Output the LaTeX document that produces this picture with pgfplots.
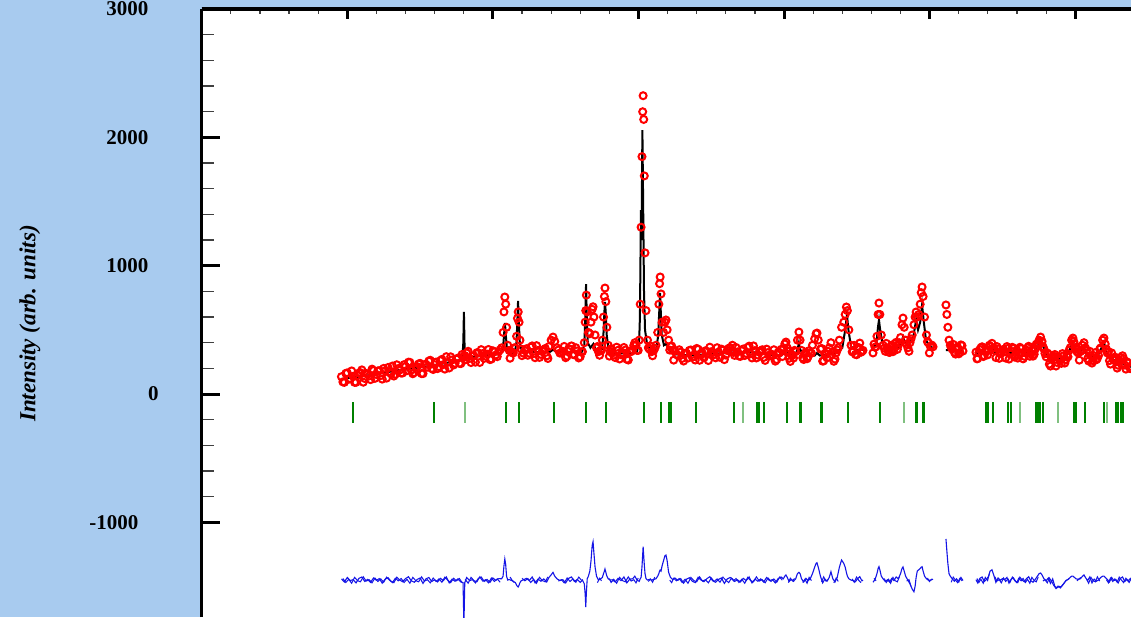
\documentclass[border=0pt]{standalone}
\usepackage{pgfplots}
\usepackage{pgfplotstable}
\pgfplotsset{compat=1.18}
\usepackage{fontspec}
\setmainfont{Liberation Serif}
\definecolor{bgblue}{RGB}{168,203,239}
\definecolor{bragg}{RGB}{0,128,0}
\definecolor{diffblue}{RGB}{20,20,230}

\pgfplotstableread{
x obs diff
19.6 135 -1441
19.8 91 -1465
20.0 165 -1430
20.2 120 -1454
20.4 138 -1447
20.6 91 -1472
20.8 164 -1437
21.0 188 -1426
21.2 121 -1461
21.4 155 -1445
21.6 112 -1468
21.8 183 -1434
22.0 152 -1452
22.2 182 -1439
22.4 116 -1474
22.6 181 -1443
22.8 207 -1432
23.0 158 -1459
23.2 140 -1470
23.4 228 -1428
23.6 187 -1450
23.8 164 -1463
24.0 215 -1439
24.2 248 -1424
24.4 186 -1456
24.6 167 -1467
24.8 214 -1445
25.0 239 -1434
25.2 159 -1476
25.4 232 -1441
25.6 257 -1430
25.8 199 -1461
26.0 229 -1448
26.2 198 -1465
26.4 260 -1437
26.6 229 -1454
26.8 291 -1426
27.0 203 -1472
27.2 265 -1443
27.4 239 -1459
27.6 280 -1441
27.8 237 -1465
27.95 290 -1470
28.01 285 -1800
28.07 300 -1470
28.2 320 -1430
28.4 277 -1454
28.6 295 -1447
28.8 248 -1472
29.0 321 -1437
29.2 346 -1426
29.4 278 -1461
29.6 311 -1445
29.8 268 -1468
30.0 337 -1434
30.2 304 -1452
30.4 332 -1439
30.6 360 -1440
30.70 480 -1420
30.76 640 -1340
30.82 756 -1286
30.88 700 -1330
30.94 520 -1420
31.02 380 -1450
31.12 340 -1445
31.25 330 -1452
31.40 320 -1460
31.55 360 -1470
31.63 450 -1490
31.69 590 -1500
31.74 640 -1504
31.80 560 -1490
31.86 420 -1470
31.95 350 -1455
32.1 318 -1448
32.3 353 -1437
32.5 318 -1454
32.7 375 -1426
32.9 283 -1472
33.1 340 -1443
33.3 309 -1459
33.5 345 -1441
33.7 297 -1465
33.85 370 -1430
34.0 420 -1410
34.13 444 -1390
34.25 410 -1420
34.4 360 -1440
34.6 319 -1454
34.8 333 -1447
35.0 283 -1472
35.2 353 -1437
35.4 375 -1426
35.6 305 -1461
35.8 336 -1445
36.0 291 -1468
36.15 330 -1450
36.28 400 -1480
36.34 560 -1560
36.38 650 -1660
36.42 771 -1550
36.48 640 -1440
36.56 480 -1420
36.66 470 -1380
36.74 560 -1300
36.82 660 -1180
36.88 680 -1151
36.94 600 -1240
37.02 460 -1350
37.12 360 -1420
37.25 330 -1450
37.40 340 -1440
37.52 420 -1430
37.60 600 -1400
37.66 760 -1380
37.70 826 -1364
37.76 720 -1390
37.83 520 -1420
37.92 380 -1440
38.05 330 -1450
38.2 319 -1448
38.4 284 -1465
38.6 341 -1437
38.8 306 -1454
39.0 363 -1426
39.2 271 -1472
39.4 328 -1443
39.6 345 -1440
39.75 400 -1420
39.9 340 -1450
40.05 420 -1460
40.12 700 -1440
40.18 1300 -1430
40.24 1850 -1350
40.29 2200 -1250
40.32 2325 -1190
40.36 2140 -1260
40.40 1700 -1330
40.45 1100 -1400
40.52 650 -1440
40.62 420 -1450
40.75 350 -1445
40.9 330 -1450
41.05 340 -1445
41.2 380 -1440
41.32 480 -1420
41.40 700 -1400
41.45 860 -1380
41.49 912 -1372
41.55 780 -1380
41.62 560 -1340
41.72 480 -1300
41.82 560 -1260
41.89 577 -1255
41.97 500 -1300
42.07 420 -1390
42.2 370 -1430
42.35 340 -1445
42.5 336 -1434
42.7 301 -1452
42.9 327 -1439
43.1 257 -1474
43.3 318 -1443
43.5 340 -1432
43.7 287 -1459
43.9 265 -1470
44.1 349 -1428
44.3 305 -1450
44.5 282 -1463
44.7 332 -1439
44.9 365 -1424
45.1 302 -1456
45.3 282 -1467
45.5 327 -1445
45.7 350 -1434
45.9 268 -1476
46.1 339 -1441
46.3 362 -1430
46.45 380 -1440
46.6 301 -1461
46.8 328 -1448
47.0 293 -1465
47.2 351 -1437
47.4 316 -1454
47.6 373 -1426
47.8 281 -1472
48.0 338 -1443
48.2 304 -1459
48.4 338 -1441
48.6 285 -1465
48.8 350 -1430
49.0 297 -1454
49.2 308 -1447
49.4 256 -1472
49.6 326 -1437
49.8 348 -1426
49.95 350 -1440
50.05 390 -1420
50.13 405 -1410
50.22 360 -1430
50.35 278 -1461
50.5 309 -1445
50.65 280 -1460
50.8 330 -1440
50.92 420 -1400
51.02 483 -1390
51.1 420 -1400
51.2 340 -1440
51.35 269 -1465
51.5 326 -1437
51.65 291 -1454
51.8 320 -1440
51.95 380 -1400
52.1 430 -1350
52.2 470 -1320
52.26 475 -1315
52.35 420 -1350
52.5 350 -1420
52.65 256 -1472
52.8 313 -1443
52.95 282 -1459
53.1 360 -1430
53.22 400 -1385
53.35 330 -1440
53.5 272 -1465
53.65 344 -1430
53.8 420 -1350
53.95 520 -1294
54.1 560 -1320
54.2 620 -1350
54.28 678 -1390
54.35 650 -1420
54.45 500 -1440
54.6 380 -1450
54.75 330 -1455
54.9 309 -1463
55.05 362 -1439
55.2 397 -1424
55.35 332 -1456
55.42 340 -1450
nan nan nan
56.11 320 -1467
56.25 364 -1445
56.38 450 -1400
56.46 620 -1360
56.52 709 -1346
56.58 620 -1370
56.68 460 -1420
56.8 380 -1440
56.95 333 -1461
57.1 359 -1448
57.25 324 -1465
57.4 381 -1437
57.55 346 -1454
57.7 403 -1426
57.85 380 -1440
58.0 440 -1400
58.1 540 -1360
58.17 592 -1348
58.25 520 -1380
58.35 420 -1420
58.5 360 -1450
58.65 400 -1480
58.8 460 -1520
58.92 540 -1541
59.0 600 -1500
59.07 639 -1430
59.15 600 -1380
59.25 620 -1370
59.35 700 -1360
59.42 790 -1350
59.48 834 -1346
59.55 760 -1380
59.65 600 -1420
59.78 460 -1440
59.9 400 -1450
60.05 370 -1452
60.23 368 -1443
nan nan nan
61.12 694 -1130
61.18 620 -1220
61.25 520 -1320
61.33 420 -1400
61.42 380 -1420
61.55 350 -1440
61.7 325 -1459
61.85 361 -1441
62.0 313 -1465
62.15 383 -1430
62.29 335 -1454
nan nan nan
63.18 326 -1447
63.3 276 -1472
63.45 346 -1437
63.6 368 -1426
63.75 298 -1461
63.9 339 -1445
64.05 340 -1420
64.15 370 -1380
64.28 395 -1370
64.4 360 -1410
64.55 284 -1468
64.7 351 -1434
64.85 316 -1452
65.0 342 -1439
65.15 330 -1448
65.31 370 -1430
65.45 272 -1474
65.6 333 -1443
65.75 355 -1432
65.9 302 -1459
66.05 280 -1470
66.2 364 -1428
66.35 320 -1450
66.5 294 -1463
66.65 342 -1439
66.8 372 -1424
66.95 312 -1456
67.1 295 -1467
67.25 349 -1445
67.4 370 -1420
67.52 420 -1400
67.62 444 -1395
67.72 410 -1410
67.85 350 -1440
68.0 290 -1455
68.15 311 -1434
68.3 218 -1476
68.45 286 -1441
68.6 308 -1500
68.75 246 -1510
68.9 272 -1500
69.05 239 -1502
69.2 298 -1480
69.35 266 -1454
69.5 290 -1445
69.65 360 -1430
69.75 420 -1420
69.84 436 -1419
69.95 390 -1430
70.05 350 -1440
70.2 320 -1445
70.35 330 -1440
70.5 380 -1420
70.6 400 -1410
70.7 360 -1430
70.85 276 -1454
71.0 333 -1426
71.15 241 -1472
71.3 298 -1443
71.45 267 -1459
71.6 300 -1450
71.75 360 -1430
71.88 420 -1420
71.97 436 -1419
72.06 390 -1430
72.2 320 -1445
72.35 260 -1465
72.5 320 -1430
72.65 264 -1454
72.8 276 -1447
72.95 224 -1472
73.1 286 -1437
73.25 298 -1426
73.4 226 -1461
73.55 251 -1445
73.7 212 -1468
73.85 265 -1434
74.0 230 -1450
}\obsdata

\pgfplotstableread{
x obs diff
19.7 94 -1438
19.9 161 -1469
20.1 115 -1444
20.3 180 -1475
20.5 91 -1429
20.7 144 -1454
20.9 167 -1464
21.1 92 -1425
21.3 160 -1458
21.5 141 -1447
21.7 194 -1472
21.9 122 -1434
22.1 180 -1461
22.3 144 -1441
22.5 200 -1467
22.7 124 -1427
22.9 176 -1451
23.1 218 -1470
23.3 154 -1436
23.5 198 -1456
23.7 163 -1438
23.9 229 -1469
24.1 182 -1444
24.3 247 -1475
24.5 158 -1429
24.7 211 -1454
24.9 234 -1464
25.1 159 -1425
25.3 228 -1458
25.5 209 -1447
25.7 263 -1472
25.9 191 -1434
26.1 249 -1461
26.3 213 -1441
26.5 270 -1467
26.7 194 -1427
26.9 247 -1451
27.1 290 -1470
27.3 226 -1436
27.5 272 -1456
27.7 239 -1438
27.88 308 -1469
nan nan nan
28.1 266 -1444
28.3 333 -1475
28.5 245 -1429
28.7 298 -1454
28.9 322 -1464
29.1 246 -1425
29.3 315 -1458
29.5 295 -1447
29.7 347 -1472
29.9 273 -1434
30.1 329 -1461
30.3 291 -1441
30.5 345 -1467
nan nan nan
31.18 279 -1427
31.32 322 -1451
31.47 360 -1470
nan nan nan
32.0 299 -1436
32.2 339 -1456
32.4 302 -1438
32.6 365 -1469
32.8 315 -1444
33.0 377 -1475
33.2 285 -1429
33.4 335 -1454
33.6 355 -1464
33.78 277 -1425
nan nan nan
34.5 343 -1458
34.7 321 -1447
34.9 371 -1472
35.1 295 -1434
35.3 349 -1461
35.5 309 -1441
35.7 361 -1467
35.9 281 -1427
36.08 329 -1451
nan nan nan
37.18 370 -1470
37.33 302 -1436
37.46 342 -1456
nan nan nan
38.0 295 -1438
38.12 353 -1469
38.3 303 -1444
38.5 365 -1475
38.7 273 -1429
38.9 323 -1454
39.1 343 -1464
39.3 265 -1425
39.5 331 -1458
39.68 380 -1447
39.83 380 -1472
39.98 340 -1434
nan nan nan
40.68 360 -1461
40.82 374 -1441
40.97 298 -1467
41.12 357 -1427
nan nan nan
42.15 342 -1451
42.28 374 -1470
42.42 264 -1436
42.6 310 -1456
42.8 345 -1438
43.0 277 -1469
43.2 317 -1444
43.4 280 -1475
43.6 343 -1429
43.8 293 -1454
44.0 355 -1464
44.2 263 -1425
44.4 315 -1458
44.6 337 -1447
44.8 261 -1472
45.0 330 -1434
45.2 310 -1461
45.4 361 -1441
45.6 286 -1467
45.8 342 -1427
46.0 303 -1451
46.2 356 -1470
46.38 330 -1436
46.53 325 -1456
46.7 363 -1438
46.9 296 -1469
47.1 337 -1444
47.3 300 -1475
47.5 363 -1429
47.7 313 -1454
47.9 375 -1464
48.1 281 -1425
48.3 329 -1458
48.5 345 -1447
48.7 262 -1472
48.9 323 -1434
49.1 297 -1461
49.3 345 -1441
49.5 268 -1467
49.7 322 -1427
49.88 292 -1451
nan nan nan
50.3 334 -1470
50.43 254 -1436
50.58 302 -1456
50.72 340 -1438
nan nan nan
51.28 282 -1469
51.43 312 -1444
51.58 275 -1475
51.72 338 -1429
51.88 318 -1454
nan nan nan
52.58 355 -1464
52.72 258 -1425
52.88 308 -1458
53.02 333 -1447
nan nan nan
53.42 255 -1472
53.58 321 -1434
53.72 360 -1461
nan nan nan
54.68 329 -1441
54.82 379 -1467
54.98 306 -1427
55.12 362 -1451
55.28 325 -1470
nan nan nan
56.18 389 -1436
56.32 370 -1456
nan nan nan
56.88 357 -1438
57.02 395 -1469
57.18 327 -1444
57.32 367 -1475
57.48 330 -1429
57.62 393 -1454
57.78 348 -1464
57.92 400 -1425
nan nan nan
58.42 390 -1458
58.58 333 -1447
58.72 430 -1500
nan nan nan
59.85 408 -1434
59.98 320 -1461
60.15 381 -1441
nan nan nan
61.48 364 -1467
61.62 387 -1427
61.78 311 -1451
61.92 365 -1470
62.08 325 -1436
62.22 377 -1456
nan nan nan
63.25 274 -1438
63.38 322 -1469
63.52 360 -1444
63.68 292 -1475
63.82 334 -1429
63.98 305 -1454
64.1 380 -1400
nan nan nan
64.48 340 -1425
64.62 370 -1458
64.78 278 -1447
64.92 328 -1472
65.08 348 -1434
65.22 280 -1461
65.38 356 -1441
65.52 314 -1467
65.68 364 -1427
65.82 288 -1451
65.98 342 -1470
66.12 302 -1436
66.28 354 -1456
66.42 274 -1438
66.58 322 -1469
66.72 360 -1444
66.88 294 -1475
67.02 340 -1429
67.18 310 -1454
67.32 388 -1464
67.46 400 -1425
nan nan nan
67.78 370 -1458
67.92 316 -1447
68.08 320 -1472
68.22 233 -1434
68.38 278 -1461
68.52 296 -1491
68.68 218 -1517
68.82 284 -1497
68.98 264 -1512
69.12 315 -1488
69.28 241 -1467
69.42 302 -1451
69.58 340 -1440
nan nan nan
69.9 410 -1436
nan nan nan
70.12 330 -1456
70.28 264 -1438
70.42 342 -1430
nan nan nan
70.78 340 -1444
70.92 257 -1475
71.08 297 -1429
71.22 260 -1454
71.38 323 -1464
71.52 278 -1425
71.68 350 -1458
nan nan nan
72.14 350 -1447
72.28 330 -1472
72.42 233 -1434
72.58 276 -1461
72.72 288 -1441
72.88 202 -1467
73.02 261 -1427
73.18 232 -1451
73.32 276 -1470
73.48 194 -1436
73.62 242 -1456
73.78 198 -1438
73.92 246 -1469
}\obsdatab

\pgfplotstableread{
x calc
19.6 117
21.6 148
23.6 187
25.6 217
27.0 247
27.6 262
27.9 272
27.97 400
28.01 640
28.05 400
28.1 280
28.8 292
29.8 304
30.5 312
30.7 360
30.78 480
30.83 553
30.88 470
30.96 360
31.1 320
31.5 322
31.62 400
31.68 560
31.73 725
31.78 560
31.85 400
32.0 330
32.5 327
33.9 327
34.13 345
34.4 327
36.1 327
36.28 380
36.35 600
36.40 857
36.45 600
36.52 400
36.7 360
36.9 390
37.1 340
37.5 350
37.6 480
37.66 640
37.70 717
37.75 640
37.82 460
37.95 340
38.3 315
39.6 318
39.9 330
40.05 420
40.10 600
40.17 1434
40.21 1200
40.27 2057
40.32 1500
40.38 800
40.45 500
40.6 380
40.9 330
41.2 340
41.35 450
41.43 650
41.48 787
41.53 650
41.6 460
41.75 380
41.9 390
42.1 340
42.5 310
43.5 300
45.0 312
46.3 322
46.45 350
46.6 324
48.0 325
49.0 305
49.8 300
50.0 320
50.13 359
50.26 315
50.8 310
50.95 360
51.02 397
51.1 350
51.3 305
52.1 300
52.26 320
52.45 300
53.1 305
53.22 330
53.4 310
54.0 360
54.2 500
54.32 616
54.42 500
54.6 370
54.9 340
55.42 345
nan nan
56.11 355
56.35 400
56.45 520
56.52 577
56.6 500
56.75 400
57.0 360
57.8 362
58.05 400
58.17 444
58.3 400
58.6 380
58.9 460
59.07 577
59.2 500
59.35 560
59.48 694
59.6 560
59.75 420
60.0 370
60.23 360
nan nan
61.12 343
62.29 343
nan nan
63.18 320
64.0 325
64.28 355
64.5 325
65.3 335
65.5 320
67.2 330
67.5 390
67.64 421
67.78 380
68.0 300
68.4 270
69.3 275
69.6 340
69.84 405
70.05 330
70.3 310
70.45 340
70.6 359
70.8 300
71.5 285
71.8 360
71.97 405
72.15 320
72.6 270
73.2 240
74.0 205
}\calcdata

\begin{document}
\begin{tikzpicture}
\fill[bgblue] (0,0) rectangle (565.5pt,308.5pt);
\begin{axis}[
  at={(100.85pt,0pt)}, anchor=south west,
  width=464.65pt, height=303.95pt, scale only axis,
  xmin=10, xmax=73.83, ymin=-1738, ymax=3000,
  axis background/.style={fill=white},
  axis x line*=top, axis y line*=left,
  axis line style={line width=1.75pt, -},
  xtick=\empty,
  ytick={-1000,0,1000,2000,3000},
  yticklabels={{-1000\hspace*{5pt}},{0\hspace*{-6pt}},1000,2000,3000},
  minor y tick num=4,
  tick align=inside,
  major tick length=9pt, minor tick length=6pt,
  every major tick/.style={line width=1.5pt, black},
  every minor tick/.style={line width=0.6pt, black!75},
  yticklabel style={font=\fontsize{10.5}{12}\selectfont\bfseries, anchor=east, inner sep=0pt, xshift=-26.5pt},
  ylabel={Intensity (arb. units)},
  every axis y label/.style={at={(axis description cs:-0.1848,0.4828)}, rotate=90, anchor=center, font=\fontsize{11.5}{13}\selectfont\bfseries\itshape},
  unbounded coords=jump,
  clip=true,
]
\addplot[only marks, mark=o, red, mark size=1.75pt, mark options={line width=1pt}] table[x=x, y=obs] {\obsdata};
\addplot[only marks, mark=o, red, mark size=1.75pt, mark options={line width=1pt}] table[x=x, y=obs] {\obsdatab};
\addplot[black, line width=1pt] table[x=x, y=calc] {\calcdata};
\addplot[diffblue, line width=0.5pt] table[x=x, y=diff] {\obsdatab};
\addplot[diffblue, line width=0.55pt] table[x=x, y=diff] {\obsdata};
\addplot[only marks, mark=|, mark size=5.25pt, bragg, mark options={line width=1pt}] coordinates {
(20.39,-146) (25.95,-146) (30.90,-146) (31.79,-146) (34.20,-146) (36.39,-146)
(37.77,-146) (40.38,-146) (41.55,-146) (42.12,-146) (42.25,-146) (43.95,-146)
(46.57,-146) (48.16,-146) (48.26,-146) (48.62,-146) (50.18,-146) (51.09,-146)
(51.18,-146) (52.51,-146) (52.58,-146) (54.37,-146) (56.59,-146) (59.06,-146)
(59.15,-146) (59.52,-146) (59.61,-146) (63.87,-146) (64.00,-146) (64.33,-146)
(65.40,-146) (65.56,-146) (67.30,-146) (67.44,-146) (67.58,-146) (67.80,-146)
(69.93,-146) (70.07,-146) (70.67,-146) (71.99,-146) (72.79,-146) (72.95,-146)
(73.12,-146) (73.28,-146)
};
\addplot[only marks, mark=|, mark size=5.25pt, bragg!50, mark options={line width=1pt}] coordinates {
(28.08,-146) (47.16,-146) (58.26,-146) (66.20,-146) (68.79,-146) (72.16,-146)
};
\end{axis}
\begin{axis}[
  at={(100.85pt,0pt)}, anchor=south west,
  width=464.65pt, height=303.95pt, scale only axis,
  xmin=10, xmax=73.83, ymin=-1738, ymax=3000,
  axis x line*=top, hide y axis,
  axis line style={line width=1.75pt, -},
  xtick={10,20,...,70}, xticklabels={},
  minor x tick num=4,
  tick align=inside,
  major tick length=5pt, minor tick length=2.5pt,
  every major tick/.style={line width=1.5pt, black},
  every minor tick/.style={line width=0.6pt, black!75},
]
\end{axis}
\pgfresetboundingbox
\path[use as bounding box] (0,0) rectangle (565.5pt,308.5pt);
\end{tikzpicture}
\end{document}
